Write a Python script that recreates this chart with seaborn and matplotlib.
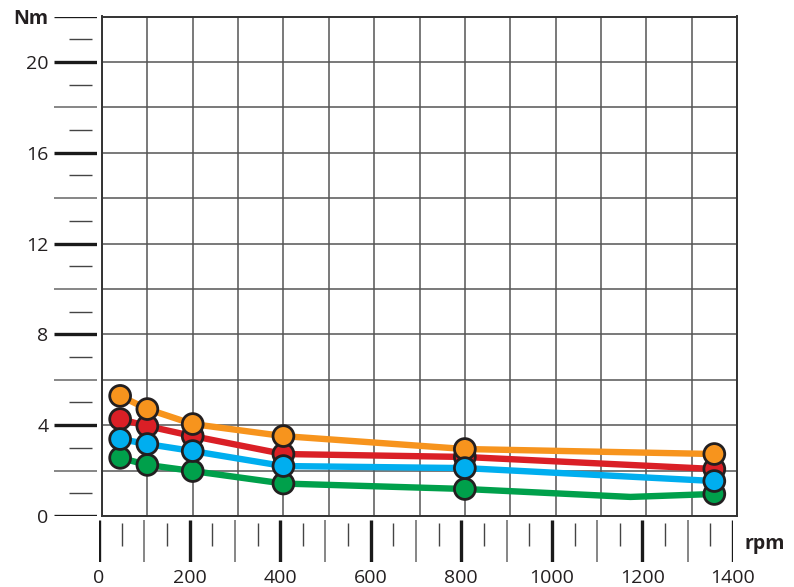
import numpy as np
import pandas as pd
import seaborn as sns
import matplotlib.pyplot as plt

# ---- data ----
rpm = [40, 100, 200, 400, 800, 1350]
orange = [5.29, 4.71, 4.05, 3.52, 2.95, 2.73]
red = [4.27, 3.96, 3.52, 2.73, 2.60, 2.07]
blue = [3.39, 3.17, 2.86, 2.20, 2.11, 1.54]
green = [2.56, 2.25, 1.98, 1.43, 1.19, 0.97]
# green line has one extra bend without a marker
green_bend_rpm = 1165
green_bend_val = 0.84

y_major = [0, 4, 8, 12, 16, 20, 22]
y_major_labels = ['0', '4', '8', '12', '16', '20', 'Nm']
y_long = [2, 6, 10, 14, 18]
y_short = [1, 3, 5, 7, 9, 11, 13, 15, 17, 19, 21]
x_major = [0, 200, 400, 600, 800, 1000, 1200, 1400]
x_mid = [100, 300, 500, 700, 900, 1100, 1300]
x_short = [50, 150, 250, 350, 450, 550, 650, 750, 850, 950, 1050, 1150, 1250, 1350]

colors = {'orange': '#F7941D', 'red': '#DA1F26', 'blue': '#00AEEF', 'green': '#00A04B'}
draw_order = ['red', 'green', 'orange', 'blue']
series = {'orange': orange, 'red': red, 'blue': blue, 'green': green}

# ---- tidy tables ----
pts = pd.concat([pd.DataFrame({'rpm': rpm, 'Nm': series[s], 'serie': s}) for s in draw_order],
                ignore_index=True)
lines = []
for s in draw_order:
    xs, ys = list(rpm), list(series[s])
    if s == 'green':
        xs.insert(5, green_bend_rpm)
        ys.insert(5, green_bend_val)
    lines.append(pd.DataFrame({'rpm': xs, 'Nm': ys, 'serie': s}))
lines = pd.concat(lines, ignore_index=True)

sns.set_theme(style='white')
plt.rcParams['font.family'] = ['Open Sans', 'DejaVu Sans']

W, H = 794, 587
fig = plt.figure(figsize=(W / 100, H / 100), dpi=100)
ax = fig.add_axes([102 / W, (H - 516) / H, 635 / W, 499.5 / H])
ay = fig.add_axes([54 / W, (H - 516) / H, 43 / W, 499.5 / H])
axb = fig.add_axes([99 / W, (H - 562) / H, 634 / W, 42 / H])

# main plot
sns.lineplot(data=lines, x='rpm', y='Nm', hue='serie', palette=colors, sort=False,
             lw=4.6, legend=False, ax=ax, zorder=3, estimator=None)
sns.scatterplot(data=pts, x='rpm', y='Nm', hue='serie', palette=colors, s=225,
                edgecolor='#231F20', linewidth=2.0, legend=False, ax=ax, zorder=4)
ax.set_xlim(0, 1400)
ax.set_ylim(0, 22)
ax.set_xticks(np.arange(0, 1401, 100))
ax.set_yticks(np.arange(0, 23, 2))
ax.grid(True, color='#555555', lw=1.1)
ax.set_xticklabels([])
ax.set_yticklabels([])
ax.tick_params(length=0)
ax.set_xlabel('')
ax.set_ylabel('')
for sp in ax.spines.values():
    sp.set_color('#333333')
    sp.set_linewidth(1.4)

# y tick scale on the left
ay.set_ylim(0, 22)
ay.set_xlim(0, 1)
ay.hlines(y_major, 0, 1, color='#1a1a1a', lw=2.4)
ay.hlines(y_long, 0, 1, color='#666666', lw=1.1)
ay.hlines(y_short, 0.35, 0.88, color='#444444', lw=1.0)
ay.set_yticks(y_major)
ay.set_yticklabels(y_major_labels, fontsize=14, color='#231F20')
ay.get_yticklabels()[-1].set_fontweight('bold')
ay.tick_params(axis='y', length=0, pad=4)
ay.set_xticks([])
for sp in ay.spines.values():
    sp.set_visible(False)
ay.patch.set_alpha(0)

# x tick scale below
axb.set_xlim(0, 1400)
axb.set_ylim(0, 1)
axb.vlines(x_major, 0, 1, color='#1a1a1a', lw=2.4)
axb.vlines(x_mid, 0, 1, color='#666666', lw=1.1)
axb.vlines(x_short, 0.38, 0.93, color='#444444', lw=1.0)
axb.set_xticks(x_major)
axb.set_xticklabels([str(v) for v in x_major], fontsize=14, color='#231F20')
axb.tick_params(axis='x', length=0, pad=5)
axb.set_yticks([])
for sp in axb.spines.values():
    sp.set_visible(False)
axb.patch.set_alpha(0)

fig.text(745 / W, (H - 544) / H, 'rpm', fontsize=14, fontweight='bold',
         ha='left', va='center', color='#231F20')

fig.savefig('out.png', dpi=100)
